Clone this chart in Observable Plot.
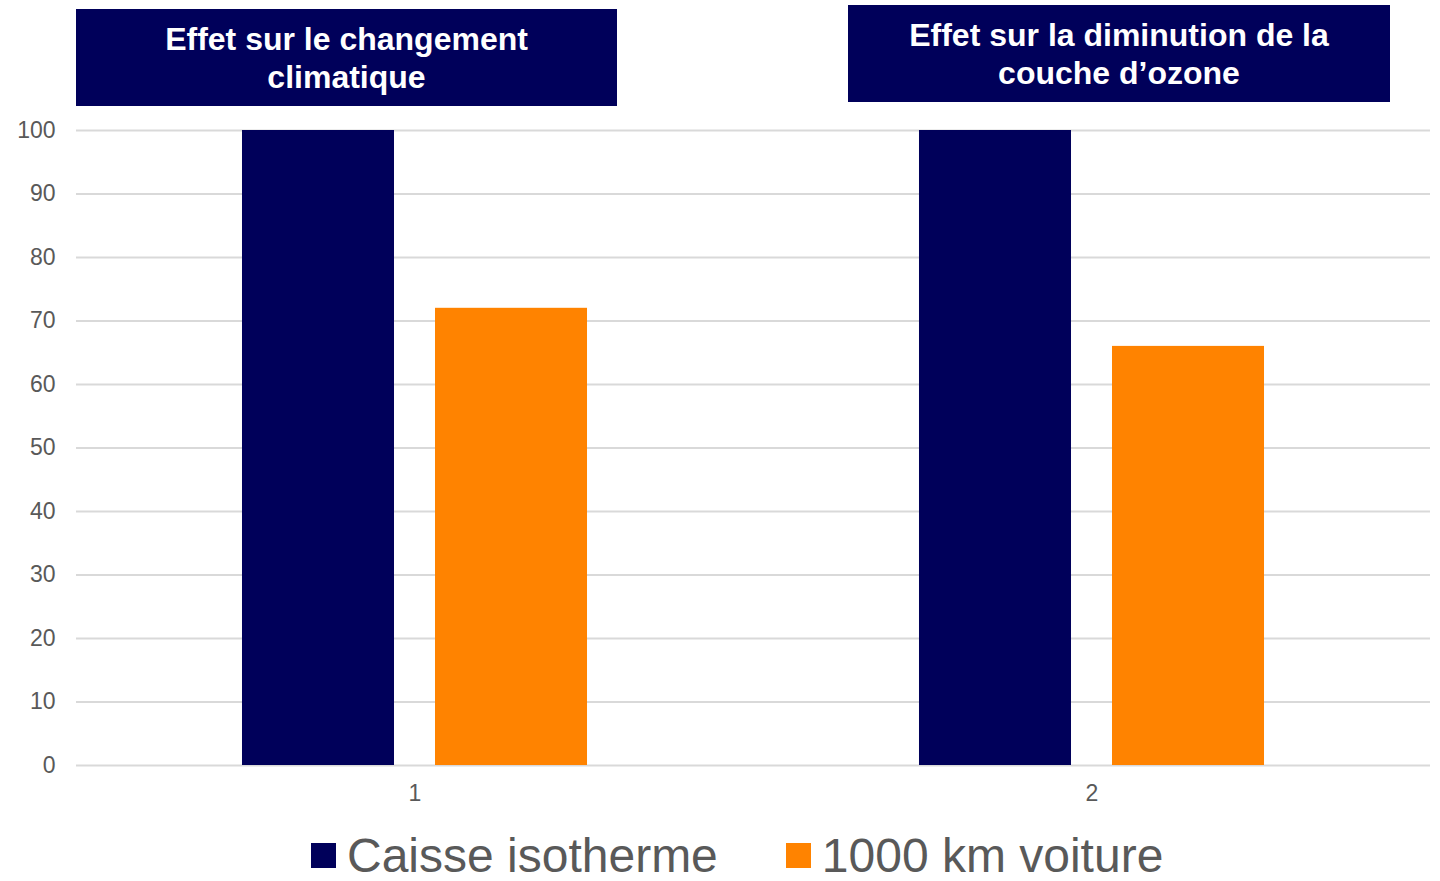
<!DOCTYPE html>
<html>
<head>
<meta charset="utf-8">
<script src="https://cdn.jsdelivr.net/npm/d3@7"></script>
<script src="https://cdn.jsdelivr.net/npm/@observablehq/plot@0.6"></script>
<style>
  body { margin: 0; background: #fff; font-family: "Liberation Sans", Arial, sans-serif; }
  #wrap { position: relative; width: 1440px; height: 881px; overflow: hidden; }
  #chart { position: absolute; left: 0; top: 0; }
  .tbox { position: absolute; background: #00005a; color: #fff; font-weight: bold;
          font-size: 32px; line-height: 38px; text-align: center; display: flex;
          align-items: center; justify-content: center; }
  #legend { position: absolute; left: 311px; top: 828px; display: flex; align-items: center;
            font-size: 48px; color: #595959; white-space: nowrap; }
  .sw { width: 25px; height: 25px; display: inline-block; margin-right: 11px; }
  .item { display: flex; align-items: center; }
</style>
</head>
<body>
<div id="wrap">
  <div id="chart"></div>
  <div class="tbox" id="t1" style="left:76px; top:9px; width:541px; height:97px;"></div>
  <div class="tbox" id="t2" style="left:848px; top:5px; width:542px; height:97px;"></div>
  <div id="legend"></div>
</div>
<script>
const groups = ["1", "2"];
const groupTitles = ["Effet sur le changement<br>climatique", "Effet sur la diminution de la<br>couche d’ozone"];
const series = ["Caisse isotherme", "1000 km voiture"];
const caisseValues = [100, 100];
const voitureValues = [72, 66];
const yTicks = [0, 10, 20, 30, 40, 50, 60, 70, 80, 90, 100];
const colors = ["#00005a", "#ff8300"];

const data = groups.flatMap((g, i) => [
  {group: g, series: series[0], value: caisseValues[i]},
  {group: g, series: series[1], value: voitureValues[i]}
]);

const chart = Plot.plot({
  width: 1440,
  height: 810,
  marginTop: 130,
  marginBottom: 45,
  marginLeft: 76,
  marginRight: 10,
  style: {fontFamily: "'Liberation Sans', Arial, sans-serif", fontSize: "23px", color: "#595959", background: "white"},
  fx: {domain: groups, padding: 0, round: false, label: null},
  x: {domain: series, paddingInner: 0.2124, paddingOuter: 0.86, round: false, axis: null},
  y: {domain: [0, 100], label: null},
  color: {domain: series, range: colors},
  marks: [
    Plot.ruleY(yTicks, {stroke: "#d9d9d9", strokeWidth: 2}),
    Plot.barY(data, {fx: "group", x: "series", y: "value", fill: "series"}),
    Plot.axisY({ticks: yTicks, tickSize: 0, tickPadding: 21, label: null, fontSize: 23}),
    Plot.axisFx({anchor: "bottom", tickSize: 0, tickPadding: 19, label: null, fontSize: 23})
  ]
});
document.getElementById("chart").appendChild(chart);

document.getElementById("t1").innerHTML = groupTitles[0];
document.getElementById("t2").innerHTML = groupTitles[1];

const legend = document.getElementById("legend");
series.forEach((s, i) => {
  const item = document.createElement("div");
  item.className = "item";
  if (i > 0) item.style.marginLeft = "68px";
  item.innerHTML = `<span class="sw" style="background:${colors[i]}"></span><span>${s}</span>`;
  legend.appendChild(item);
});
</script>
</body>
</html>
